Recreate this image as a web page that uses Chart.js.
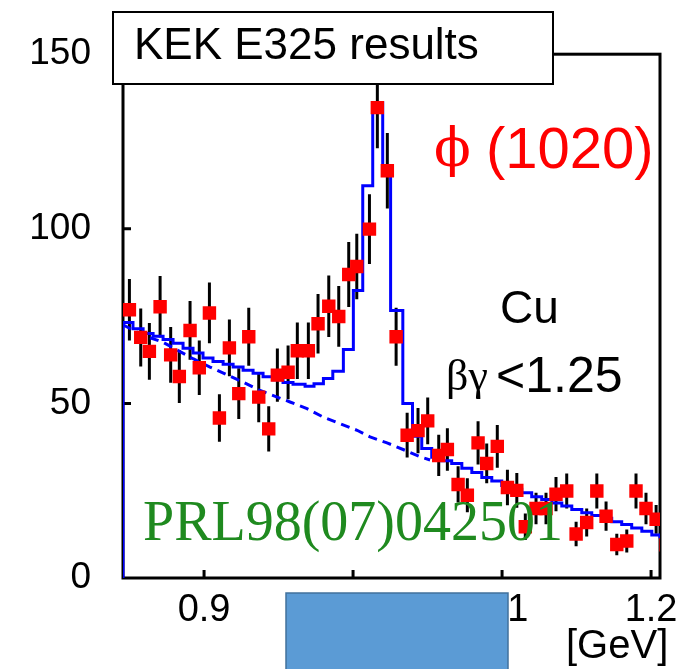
<!DOCTYPE html>
<html lang="en">
  <head>
    <meta charset="UTF-8" />
    <title>KEK E325 phi(1020)</title>
    <style>
      body { margin: 0; background: #fff; }
    </style>
  </head>
  <body>
    <canvas id="myChart" width="698" height="669"></canvas>

    <script src="https://cdn.jsdelivr.net/npm/chart.js@4/dist/chart.umd.min.js"></script>
    <script>
      // measured e+e- pairs, Cu target, beta*gamma < 1.25
      const massPts = [0.8499, 0.8575, 0.8633, 0.8705, 0.8776, 0.8834, 0.8906, 0.8968, 0.9036, 0.9103,
        0.9170, 0.9233, 0.9300, 0.9367, 0.9434, 0.9492, 0.9564, 0.9626, 0.9700, 0.9765,
        0.9837, 0.9904, 0.9971, 1.0025, 1.0110, 1.0163, 1.0230, 1.0289, 1.0363, 1.0436,
        1.0501, 1.0575, 1.0633, 1.0705, 1.0767, 1.0839, 1.0897, 1.0968, 1.1036, 1.1099,
        1.1156, 1.1228, 1.1295, 1.1362, 1.1434, 1.1497, 1.1568, 1.1636, 1.1698, 1.1770,
        1.1837, 1.1899, 1.1966, 1.2034, 1.2101];
      const countPts = [76.8, 68.9, 64.9, 77.7, 63.9, 57.7, 70.9, 60.2, 75.9, 45.8,
        65.9, 52.8, 69.1, 51.8, 42.7, 58.1, 58.9, 65.1, 65.1, 72.8,
        77.8, 74.9, 86.9, 89.2, 99.9, 134.7, 116.6, 69.1, 40.9, 42.2,
        45.0, 35.1, 36.8, 26.8, 23.7, 38.7, 32.8, 37.7, 25.9, 25.1,
        14.7, 19.9, 19.9, 24.0, 24.9, 12.6, 15.9, 24.9, 17.7, 9.6,
        10.6, 24.9, 19.9, 16.8, 9.5];
      const errPts = [8.8, 8.3, 8.1, 8.8, 8.0, 7.6, 8.4, 7.8, 8.7, 6.8,
        8.1, 7.3, 8.3, 7.2, 6.5, 7.6, 7.7, 8.1, 8.1, 8.5,
        8.8, 8.7, 9.3, 9.4, 10.0, 11.6, 10.8, 8.3, 6.4, 6.5,
        6.7, 5.9, 6.1, 5.2, 4.9, 6.2, 5.7, 6.1, 5.1, 5.0,
        3.8, 4.5, 4.5, 4.9, 5.0, 3.5, 4.0, 5.0, 4.2, 3.1,
        3.3, 5.0, 4.5, 4.1, 3.1];

      // fit (signal + background), histogram bin left edges and contents
      const fitEdges = [0.8456, 0.8523, 0.8591, 0.8658, 0.8725, 0.8792, 0.8859, 0.8926, 0.8993, 0.9060,
        0.9128, 0.9195, 0.9262, 0.9329, 0.9396, 0.9463, 0.9530, 0.9597, 0.9678, 0.9738,
        0.9801, 0.9864, 0.9935, 1.0002, 1.0065, 1.0132, 1.0199, 1.0252, 1.0334, 1.0399,
        1.0461, 1.0528, 1.0595, 1.0662, 1.0730, 1.0797, 1.0864, 1.0931, 1.0998, 1.1065,
        1.1132, 1.1199, 1.1266, 1.1334, 1.1401, 1.1468, 1.1535, 1.1602, 1.1669, 1.1736,
        1.1803, 1.1870, 1.1938, 1.2005, 1.2060];
      const fitVals = [73.2, 71.4, 70.0, 69.2, 68.3, 67.2, 65.8, 64.4, 63.0, 62.0,
        61.2, 60.4, 59.5, 58.6, 57.6, 56.8, 56.0, 55.5, 54.9, 55.6,
        57.1, 59.2, 65.4, 82.3, 112.3, 136.1, 117.7, 76.6, 50.0, 40.6,
        37.1, 34.6, 33.6, 32.8, 31.4, 30.2, 28.8, 27.8, 26.5, 25.4,
        24.4, 23.3, 22.5, 21.5, 20.6, 19.6, 18.7, 17.9, 17.1, 16.1,
        15.3, 14.3, 13.4, 12.3, 11.3];

      // background only (dashed)
      const bgMass = [0.8456, 0.8591, 0.8725, 0.8926, 0.9040, 0.9262, 0.9376, 0.9577, 0.9691, 0.9799,
        0.9913, 1.0027, 1.0114, 1.0228, 1.0336, 1.0450, 1.0517];
      const bgVals = [72.5, 69.5, 67.5, 62.8, 60.4, 56.1, 53.7, 50.4, 48.5, 46.1,
        44.2, 42.3, 40.4, 38.7, 36.8, 34.7, 33.8];

      const xTicks = [0.9, 1.0, 1.1, 1.2];
      const yTicks = [0, 50, 100, 150];

      const xMin = 0.8456, xMax = 1.2060;

      const fitData = [{ x: fitEdges[0], y: 0 }].concat(
        fitEdges.map((m, i) => ({ x: m, y: fitVals[i] }))
      );

      // error bars, frame and inward ticks
      const underlay = {
        id: "underlay",
        beforeDatasetsDraw(chart) {
          const { ctx, chartArea: a, scales } = chart;
          const xs = scales.x, ys = scales.y;
          ctx.save();
          ctx.strokeStyle = "#000";
          ctx.lineWidth = 3;
          ctx.strokeRect(a.left, a.top, a.right - a.left, a.bottom - a.top);
          ctx.beginPath();
          [50, 100].forEach(v => {
            const y = ys.getPixelForValue(v);
            ctx.moveTo(a.left, y);
            ctx.lineTo(a.left + 8, y);
          });
          xTicks.forEach(v => {
            const x = xs.getPixelForValue(v);
            ctx.moveTo(x, a.bottom);
            ctx.lineTo(x, a.bottom - 8);
          });
          ctx.stroke();

          ctx.beginPath();
          ctx.rect(a.left, a.top, a.right - a.left, a.bottom - a.top);
          ctx.clip();
          ctx.beginPath();
          massPts.forEach((m, i) => {
            const x = xs.getPixelForValue(m);
            ctx.moveTo(x, ys.getPixelForValue(countPts[i] - errPts[i]));
            ctx.lineTo(x, ys.getPixelForValue(countPts[i] + errPts[i]));
          });
          ctx.stroke();
          ctx.restore();
        }
      };

      // labels and boxes on top
      const overlay = {
        id: "overlay",
        afterDraw(chart) {
          const ctx = chart.ctx;
          ctx.save();
          ctx.fillStyle = "#fff";
          ctx.fillRect(113, 12, 440, 72);
          ctx.strokeStyle = "#000";
          ctx.lineWidth = 2;
          ctx.strokeRect(113, 12, 440, 72);

          ctx.textBaseline = "middle";
          ctx.fillStyle = "#000";
          ctx.font = "44px 'Liberation Sans'";
          ctx.fillText("KEK E325 results", 134, 47);

          ctx.fillStyle = "#ff0000";
          ctx.font = "54px 'DejaVu Serif'";
          ctx.fillText("\u03d5", 434, 152);
          ctx.font = "58px 'Liberation Sans'";
          ctx.fillText("(1020)", 486, 152);

          ctx.fillStyle = "#000";
          ctx.font = "46px 'Liberation Sans'";
          ctx.fillText("Cu", 500, 310);
          ctx.font = "44px 'Liberation Serif'";
          ctx.fillText("\u03b2\u03b3", 446, 378);
          ctx.font = "50px 'Liberation Sans'";
          ctx.fillText("<1.25", 496, 378);

          ctx.fillStyle = "#1f8a1f";
          ctx.font = "56px 'Liberation Serif'";
          ctx.fillText("PRL98(07)042501", 143, 525);

          ctx.fillStyle = "#000";
          ctx.font = "40px 'Liberation Sans'";
          ctx.fillText("[GeV]", 566, 647);

          ctx.fillStyle = "#5b9bd5";
          ctx.fillRect(286, 593, 222, 80);
          ctx.strokeStyle = "#41719c";
          ctx.lineWidth = 1.5;
          ctx.strokeRect(286, 593, 222, 80);
          ctx.restore();
        }
      };

      const ctx = document.getElementById("myChart").getContext("2d");
      const chart = new Chart(ctx, {
        type: "scatter",
        data: {
          datasets: [
            {
              label: "data",
              data: massPts.map((m, i) => ({ x: m, y: countPts[i] })),
              pointStyle: "rect",
              pointRadius: 9.5,
              backgroundColor: "#ff0000",
              borderWidth: 0,
              showLine: false
            },
            {
              label: "fit",
              data: fitData,
              showLine: true,
              stepped: true,
              borderColor: "#0000ff",
              borderWidth: 3,
              pointRadius: 0,
              fill: false
            },
            {
              label: "background",
              data: bgMass.map((m, i) => ({ x: m, y: bgVals[i] })),
              showLine: true,
              borderColor: "#0000ff",
              borderWidth: 3,
              borderDash: [9, 6],
              pointRadius: 0,
              fill: false
            }
          ]
        },
        options: {
          responsive: false,
          animation: false,
          layout: { padding: { left: 0, right: 38, top: 53, bottom: 0 } },
          plugins: { legend: { display: false }, tooltip: { enabled: false } },
          scales: {
            x: {
              type: "linear",
              min: xMin,
              max: xMax,
              grid: { display: false, drawTicks: false },
              border: { display: false },
              afterBuildTicks: s => { s.ticks = xTicks.map(v => ({ value: v })); },
              afterFit: s => { s.height = 91; },
              ticks: {
                color: "#000",
                padding: 10,
                maxRotation: 0,
                font: { family: "'Liberation Sans'", size: 38 },
                callback: v => Number(v).toFixed(1)
              }
            },
            y: {
              min: 0,
              max: 150,
              grid: { display: false, drawTicks: false },
              border: { display: false },
              afterBuildTicks: s => { s.ticks = yTicks.map(v => ({ value: v })); },
              afterFit: s => { s.width = 123; },
              ticks: {
                color: "#000",
                padding: 32,
                font: { family: "'Liberation Sans'", size: 37 },
                callback: v => String(v)
              }
            }
          }
        },
        plugins: [underlay, overlay]
      });
    </script>
  </body>
</html>
